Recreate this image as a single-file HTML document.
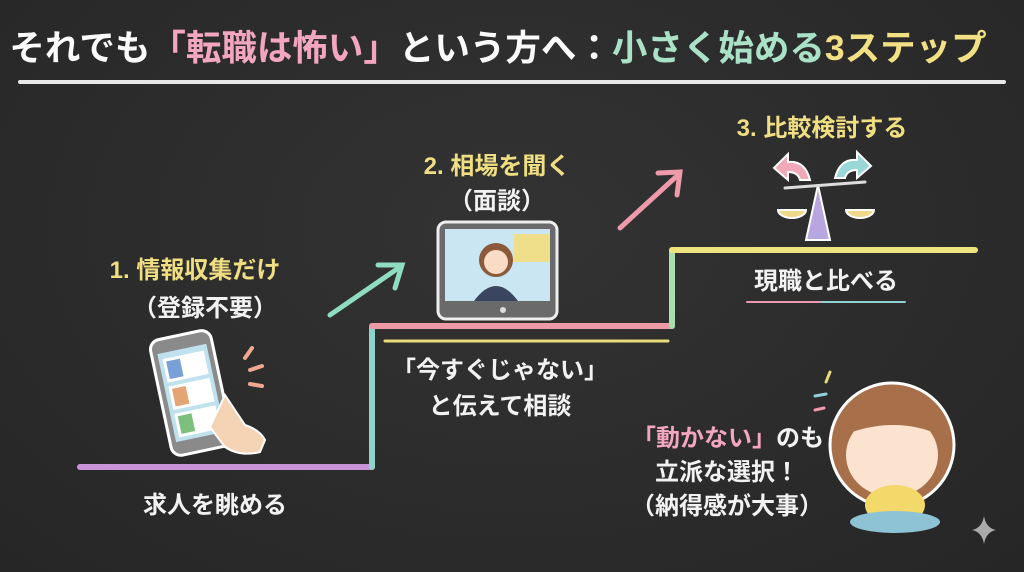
<!DOCTYPE html>
<html><head><meta charset="utf-8"><style>
body{margin:0;width:1024px;height:572px;overflow:hidden;background:#2b2b2b;font-family:"Liberation Sans","Noto Sans CJK JP",sans-serif;}
.t{position:absolute;white-space:nowrap;font-weight:bold;color:#f2f2f2;transform:translateX(-50%);line-height:1}
</style></head><body>
<div style="position:absolute;inset:0;background:radial-gradient(ellipse at 50% 40%,#333 0%,#262626 100%)"></div>
<svg width="1024" height="572" style="position:absolute;left:0;top:0" stroke-linecap="round" fill="none">
<line x1="20" y1="82" x2="1004" y2="82" stroke="#e8e8e8" stroke-width="4"/>
<line x1="80" y1="467" x2="372" y2="467" stroke="#c993d9" stroke-width="6"/>
<line x1="372" y1="467" x2="372" y2="328" stroke="#8fd3c8" stroke-width="6"/>
<line x1="372" y1="326" x2="672" y2="326" stroke="#ee9aa6" stroke-width="6"/>
<line x1="385" y1="341" x2="668" y2="341" stroke="#e8dc7a" stroke-width="3"/>
<line x1="672" y1="326" x2="672" y2="251" stroke="#a8dfb0" stroke-width="6"/>
<line x1="672" y1="250" x2="975" y2="250" stroke="#ede47e" stroke-width="6"/>
<line x1="747" y1="302" x2="822" y2="302" stroke="#e79ab0" stroke-width="2"/>
<line x1="822" y1="302" x2="905" y2="302" stroke="#8fd0d0" stroke-width="2"/>
<g stroke="#8fdcc0" stroke-width="5"><line x1="330" y1="315" x2="400" y2="267"/><polyline points="378,265 402,265 395,288"/></g>
<g stroke="#ee9aaa" stroke-width="5"><line x1="620" y1="228" x2="678" y2="175"/><polyline points="658,173 680,172 677,195"/></g>
<g transform="rotate(-12 210 390)">
<rect x="160" y="330" width="62" height="118" rx="10" fill="#8a8a8a" stroke="#fff" stroke-width="3"/>
<rect x="166" y="344" width="50" height="90" fill="#bfe2ee"/>
<rect x="170" y="350" width="42" height="24" fill="#fff"/><rect x="173" y="353" width="14" height="18" fill="#7aa0d8"/>
<rect x="170" y="378" width="42" height="24" fill="#fff"/><rect x="173" y="381" width="14" height="18" fill="#e4a474"/>
<rect x="170" y="406" width="42" height="24" fill="#fff"/><rect x="173" y="409" width="14" height="18" fill="#7dc07d"/>
</g>
<path d="M225 395 l20 30 q15 5 20 15 l-5 12 q-20 5 -35 -5 l-15 -20 z" fill="#f5d3b5" stroke="#fff" stroke-width="2"/>
<g stroke="#f0a890" stroke-width="4"><line x1="245" y1="358" x2="252" y2="348"/><line x1="250" y1="370" x2="262" y2="366"/><line x1="250" y1="384" x2="262" y2="386"/></g>
<rect x="438" y="222" width="119" height="97" rx="8" fill="#6a6a6a" stroke="#eee" stroke-width="3"/>
<rect x="445" y="229" width="105" height="72" fill="#c9e6f2"/>
<rect x="532" y="234" width="36" height="28" fill="#f0df8a" transform="translate(-18 0)"/>
<circle cx="496" cy="260" r="17" fill="#8a5a3a"/><circle cx="496" cy="262" r="12" fill="#f8dcc6"/>
<path d="M474 301 q22 -30 44 0 z" fill="#3a4560"/>
<circle cx="503" cy="310" r="3" fill="#ddd"/>
<path d="M830 240 l-12 -55 l-12 55 z" fill="#b7a6e0" stroke="#fff" stroke-width="2"/>
<line x1="785" y1="188" x2="865" y2="182" stroke="#ddd" stroke-width="3"/>
<path d="M778 210 a14 8 0 0 0 28 0 z" fill="#f0d88a" stroke="#fff" stroke-width="2"/>
<path d="M846 210 a14 8 0 0 0 28 0 z" fill="#f0d88a" stroke="#fff" stroke-width="2"/>
<path d="M810 180 q-5 -20 -22 -18 l0 -8 l-14 14 l14 12 l0 -8 q10 0 12 8 z" fill="#f1a8b8" stroke="#fff" stroke-width="2"/>
<path d="M835 178 q5 -20 22 -18 l0 -8 l14 14 l-14 12 l0 -8 q-10 0 -12 8 z" fill="#9ad8d8" stroke="#fff" stroke-width="2"/>
<ellipse cx="892" cy="445" rx="62" ry="62" fill="#a8704a" stroke="#fff" stroke-width="3"/>
<ellipse cx="892" cy="455" rx="46" ry="42" fill="#fbe3d0"/>
<path d="M844 435 q45 -50 96 0 q-45 -20 -96 0z" fill="#a8704a"/>
<ellipse cx="895" cy="505" rx="30" ry="20" fill="#f3d86a"/>
<ellipse cx="895" cy="522" rx="45" ry="11" fill="#8ec3d6"/>
<g stroke-width="3"><line x1="826" y1="382" x2="830" y2="372" stroke="#e8dc7a"/><line x1="815" y1="396" x2="826" y2="394" stroke="#8fd3d8"/><line x1="815" y1="410" x2="824" y2="408" stroke="#ee9aaa"/></g>
<path d="M984 516 q2 12 12 14 q-10 2 -12 14 q-2 -12 -12 -14 q10 -2 12 -14z" fill="#aaa"/>
</svg>
<div class="t" style="left:498px;top:31px;font-size:35.5px;color:#fafafa">それでも<span style="color:#f2a6bf">「転職は怖い」</span>という方へ：<span style="color:#a9e2c6">小さく始める</span><span style="color:#f1e184">3ステップ</span></div>
<div class="t" style="left:195px;top:259px;font-size:24px;color:#f0df82">1. 情報収集だけ</div>
<div class="t" style="left:205px;top:297px;font-size:24px">（登録不要）</div>
<div class="t" style="left:215px;top:494px;font-size:24px">求人を眺める</div>
<div class="t" style="left:497px;top:155px;font-size:24px;color:#f0df82">2. 相場を聞く</div>
<div class="t" style="left:497px;top:190px;font-size:24px">（面談）</div>
<div class="t" style="left:500px;top:359px;font-size:24px">「今すぐじゃない」</div>
<div class="t" style="left:500px;top:395px;font-size:24px">と伝えて相談</div>
<div class="t" style="left:822px;top:117px;font-size:24px;color:#f0df82">3. 比較検討する</div>
<div class="t" style="left:826px;top:270px;font-size:24px">現職と比べる</div>
<div class="t" style="left:728px;top:427px;font-size:24px"><span style="color:#f2a6bf">「動かない」</span>のも</div>
<div class="t" style="left:727px;top:461px;font-size:24px">立派な選択！</div>
<div class="t" style="left:727px;top:495px;font-size:24px">（納得感が大事）</div>
</body></html>
